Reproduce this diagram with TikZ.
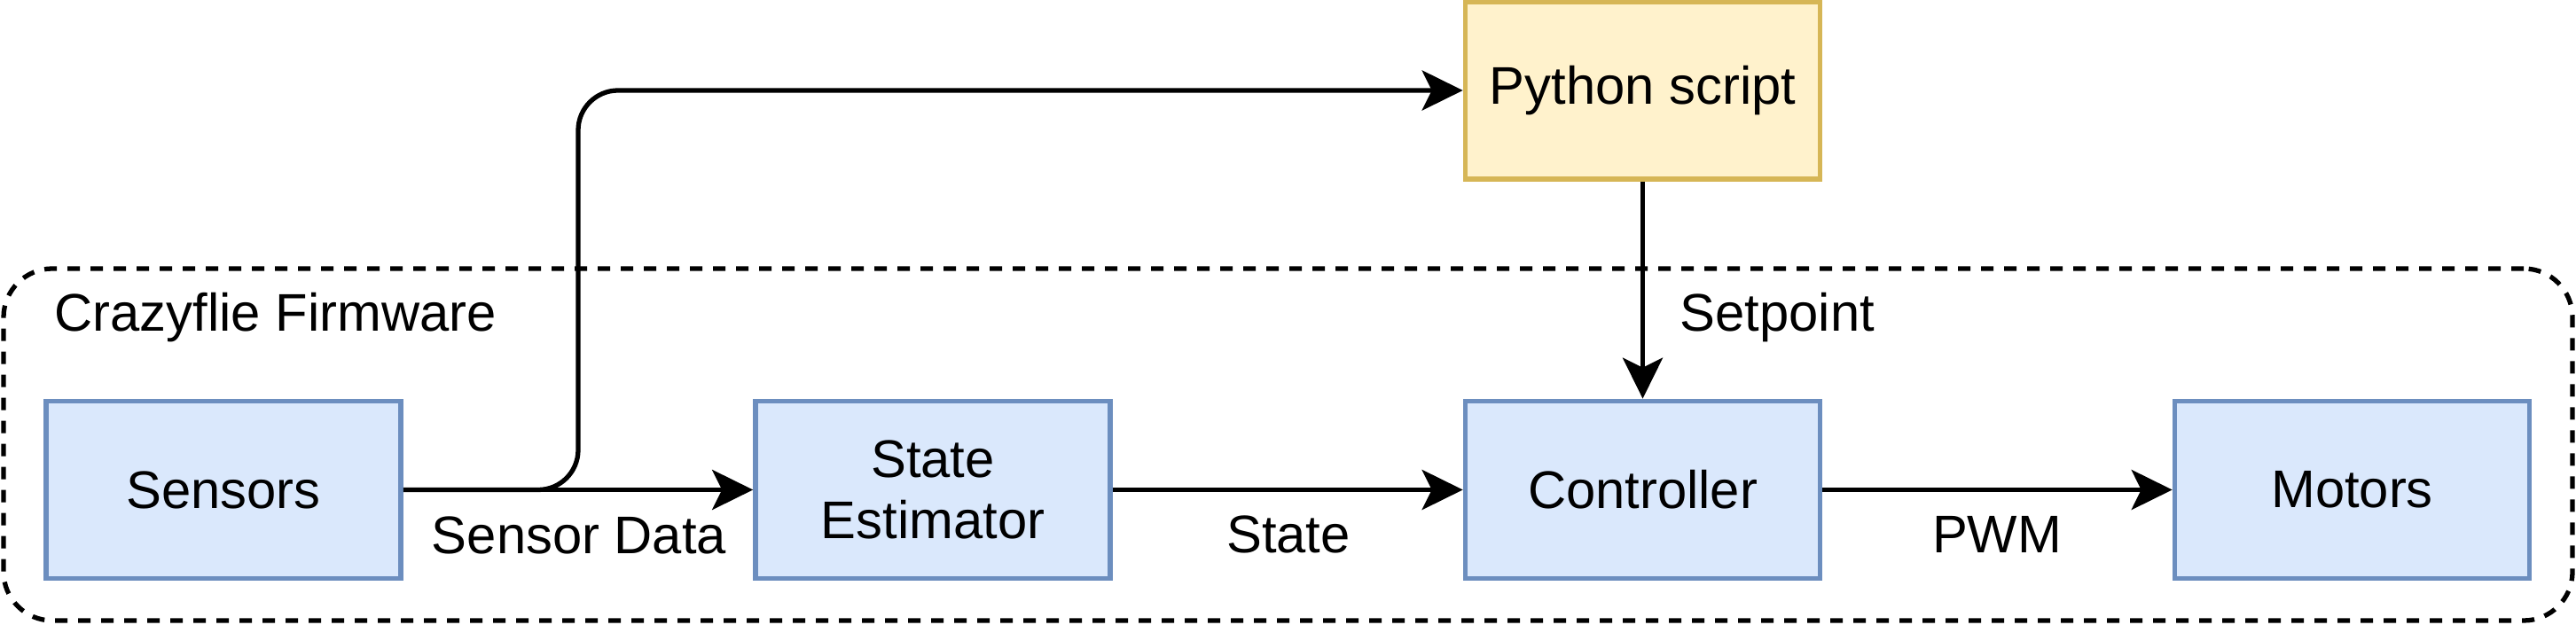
\documentclass[tikz,border=0pt]{standalone}
\usepackage{fontspec}
\setmainfont{Liberation Sans}
\usetikzlibrary{arrows.meta}

\definecolor{blockfill}{HTML}{DAE8FC}
\definecolor{blockdraw}{HTML}{6C8EBF}
\definecolor{scriptfill}{HTML}{FFF2CC}
\definecolor{scriptdraw}{HTML}{D6B656}

\begin{document}
\begin{tikzpicture}[
    font=\fontsize{17}{19.8}\selectfont,
    block/.style={rectangle, draw=blockdraw, fill=blockfill, line width=1.6pt, minimum width=4cm, minimum height=2cm, align=center},
    script/.style={block, draw=scriptdraw, fill=scriptfill},
    firmware/.style={rectangle, draw=black, line width=1.5pt, dash pattern=on 0.14cm off 0.12cm, rounded corners=0.55cm, minimum width=28.97cm, minimum height=3.97cm},
    link/.style={-{Stealth[length=0.46cm, width=0.45cm, inset=0.11cm]}, line width=1.5pt, draw=black},
    tag/.style={anchor=base, inner sep=0pt}
]

\useasboundingbox (0,0) rectangle (29.05,7.05);

\node[firmware] (FW) at (14.525,2.035) {};
\node[tag, anchor=base west] (FWlabel) at (0.61,3.31) {Crazyflie Firmware};

\node[block] (Sensors) at (2.52,1.525) {Sensors};
\node[block] (Estimator) at (10.52,1.525) {State\\Estimator};
\node[block] (Controller) at (18.525,1.525) {Controller};
\node[block] (Motors) at (26.525,1.525) {Motors};
\node[script] (Python) at (18.525,6.03) {Python script};

\coordinate (Bend) at (6.52,1.525);

\draw[link] (Sensors) -- (Estimator);
\draw[link, rounded corners=0.45cm] (Sensors.east) -- (Bend) |- (Python.west);
\draw[link] (Estimator) -- (Controller);
\draw[link] (Controller) -- (Motors);
\draw[link] (Python) -- (Controller);

\node[tag] (SensorData) at (6.53,0.80) {Sensor Data};
\node[tag] (StateLabel) at (14.53,0.81) {State};
\node[tag] (PWMLabel) at (22.52,0.81) {PWM};
\node[tag, anchor=base west] (SetpointLabel) at (18.94,3.31) {Setpoint};

\end{tikzpicture}
\end{document}
